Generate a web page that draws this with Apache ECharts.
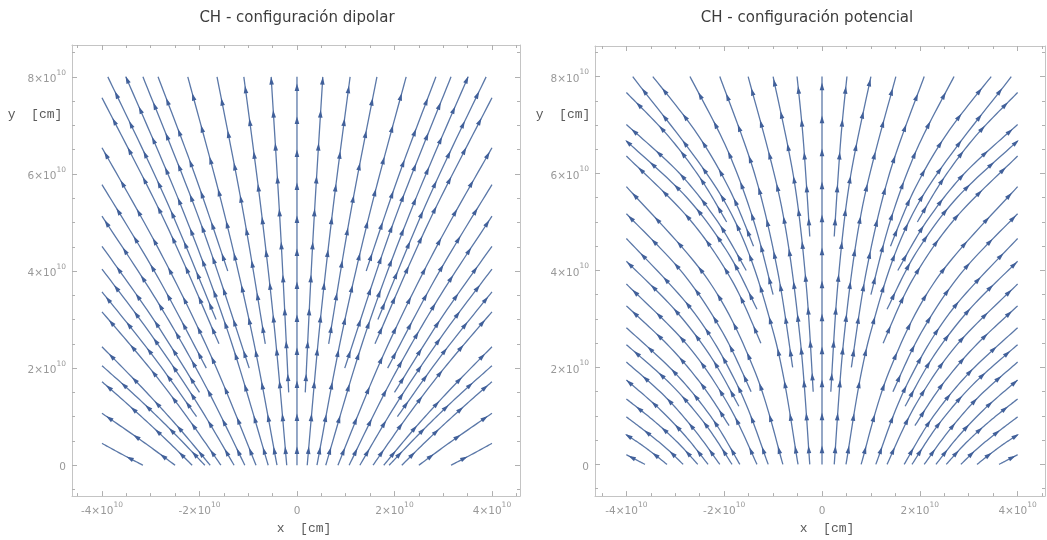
<!DOCTYPE html>
<html><head><meta charset="utf-8">
<script src="https://cdn.jsdelivr.net/npm/echarts@6/dist/echarts.min.js"></script>
<style>html,body{margin:0;padding:0;background:#fff}#c{width:1047px;height:540px}</style>
</head><body><div id="c"></div><script>
// ---- texts ----
const panelTitles = ['CH - configuración dipolar', 'CH - configuración potencial'];
const xAxisName = 'x  [cm]';
const yAxisName = 'y  [cm]';
// ---- ticks (units of 10^10 cm) ----
const majorXTicks = [-4, -2, 0, 2, 4];
const majorYTicks = [0, 2, 4, 6, 8];
const minorXTicks = [-4.5, -3.5, -3, -2.5, -1.5, -1, -0.5, 0.5, 1, 1.5, 2.5, 3, 3.5, 4.5];
const minorYTicks = [-0.5, 0.5, 1, 1.5, 2.5, 3, 3.5, 4.5, 5, 5.5, 6.5, 7, 7.5, 8.5];

// ---- streamlines, dipolar configuration (points [x, y] in 10^10 cm) ----
const dipolarLines = [
  [[-3.16,0],[-3.58,0.22],[-4,0.45]],
  [[-2.50,0],[-3.18,0.5],[-4,1.07]],
  [[-2.15,0],[-2.76,0.6],[-3.41,1.2],[-4,1.72]],
  [[-1.89,0],[-2.56,0.7],[-3.28,1.4],[-4,2.05]],
  [[-1.78,0],[-2.45,0.8],[-3.18,1.6],[-4,2.44]],
  [[-1.56,0],[-2.26,1],[-3.02,2],[-4,3.16]],
  [[-1.29,0],[-2.06,1.3],[-3.0,2.7],[-4,4.04]],
  [[-1.07,0],[-1.91,1.7],[-2.88,3.4],[-4,5.13]],
  [[-0.84,0],[-1.74,2.2],[-2.81,4.4],[-4,6.54]],
  [[-0.59,0],[-1.40,2.7],[-2.36,5.3],[-3.51,8]],
  [[-0.41,0],[-0.92,2.7],[-1.52,5.3],[-2.24,8]],
  [[-0.21,0],[-0.45,2.7],[-0.74,5.3],[-1.09,8]],
  [[-2.06,1.0],[-2.99,2.3],[-4,3.57]],
  [[-2.0,1.5],[-2.94,3.0],[-4,4.51]],
  [[-1.86,2.0],[-2.87,3.9],[-4,5.78]],
  [[-1.6,2.5],[-2.70,5.0],[-4,7.57]],
  [[-1.66,3.0],[-2.70,5.5],[-3.88,8]],
  [[-0.98,2.0],[-1.98,5.0],[-3.16,8]],
  [[-1.42,4.0],[-2.10,6.0],[-2.85,8]],
  [[-0.65,2.5],[-1.10,5.2],[-1.64,8]],
  [[-0.17,1.5],[-0.33,4.7],[-0.53,8]],
  [[0,0],[0,8]],
  [[3.16,0],[3.58,0.22],[4,0.45]],
  [[2.50,0],[3.18,0.5],[4,1.07]],
  [[2.15,0],[2.76,0.6],[3.41,1.2],[4,1.72]],
  [[1.89,0],[2.56,0.7],[3.28,1.4],[4,2.05]],
  [[1.78,0],[2.45,0.8],[3.18,1.6],[4,2.44]],
  [[1.56,0],[2.26,1],[3.02,2],[4,3.16]],
  [[1.29,0],[2.06,1.3],[3.0,2.7],[4,4.04]],
  [[1.07,0],[1.91,1.7],[2.88,3.4],[4,5.13]],
  [[0.84,0],[1.74,2.2],[2.81,4.4],[4,6.54]],
  [[0.59,0],[1.40,2.7],[2.36,5.3],[3.51,8]],
  [[0.41,0],[0.92,2.7],[1.52,5.3],[2.24,8]],
  [[0.21,0],[0.45,2.7],[0.74,5.3],[1.09,8]],
  [[2.06,1.0],[2.99,2.3],[4,3.57]],
  [[2.0,1.5],[2.94,3.0],[4,4.51]],
  [[1.86,2.0],[2.87,3.9],[4,5.78]],
  [[1.6,2.5],[2.70,5.0],[4,7.57]],
  [[1.66,3.0],[2.70,5.5],[3.88,8]],
  [[0.98,2.0],[1.98,5.0],[3.16,8]],
  [[1.42,4.0],[2.10,6.0],[2.85,8]],
  [[0.65,2.5],[1.10,5.2],[1.64,8]],
  [[0.17,1.5],[0.33,4.7],[0.53,8]]
];

// ---- streamlines, potential configuration ----
const potencialLines = [
  [[-3.62,0],[-3.81,0.1],[-4,0.2]],
  [[-3.17,0],[-3.42,0.2],[-3.70,0.41],[-4,0.61]],
  [[-2.84,0],[-3.18,0.33],[-3.57,0.65],[-4,0.98]],
  [[-2.54,0],[-2.95,0.45],[-3.44,0.9],[-4,1.35]],
  [[-2.33,0],[-2.79,0.58],[-3.34,1.16],[-4,1.74]],
  [[-2.09,0],[-2.60,0.70],[-3.22,1.41],[-4,2.11]],
  [[-1.84,0],[-2.38,0.82],[-3.09,1.65],[-4,2.47]],
  [[-1.68,0],[-2.24,0.94],[-3.0,1.88],[-4,2.82]],
  [[-1.9,0.8],[-2.44,1.62],[-3.12,2.43],[-4,3.27]],
  [[-1.33,0],[-1.92,1.24],[-2.77,2.48],[-4,3.72]],
  [[-1.7,1.2],[-2.26,2.2],[-3.01,3.19],[-4,4.19]],
  [[-1.10,0],[-1.69,1.55],[-2.60,3.11],[-4,4.66]],
  [[-1.45,1.5],[-2.03,2.72],[-2.85,3.95],[-4,5.17]],
  [[-0.80,0],[-1.37,1.91],[-2.34,3.82],[-4,5.73]],
  [[-1.25,2.5],[-1.84,3.79],[-2.72,5.07],[-4,6.36]],
  [[-1.33,3.2],[-1.92,4.36],[-2.77,5.51],[-4,6.67]],
  [[-1.55,4],[-2.13,5.0],[-2.92,6.01],[-4,7.01]],
  [[-1.95,5],[-2.48,5.89],[-3.15,6.78],[-4,7.67]],
  [[-0.49,0],[-0.98,2.67],[-1.94,5.33],[-3.87,8]],
  [[-1.4,4.5],[-1.89,5.67],[-2.56,6.83],[-3.46,8]],
  [[-1.0,3.5],[-1.39,5],[-1.94,6.5],[-2.70,8]],
  [[-0.6,2],[-0.91,4],[-1.38,6],[-2.09,8]],
  [[-0.25,0],[-0.455,2.67],[-0.83,5.33],[-1.51,8]],
  [[-0.18,1.5],[-0.32,3.67],[-0.565,5.83],[-1.0,8]],
  [[-0.25,4.7],[-0.32,5.8],[-0.4,6.9],[-0.51,8]],
  [[0,0],[0,8]],
  [[3.62,0],[3.81,0.1],[4,0.2]],
  [[3.17,0],[3.42,0.2],[3.70,0.41],[4,0.61]],
  [[2.84,0],[3.18,0.33],[3.57,0.65],[4,0.98]],
  [[2.54,0],[2.95,0.45],[3.44,0.9],[4,1.35]],
  [[2.33,0],[2.79,0.58],[3.34,1.16],[4,1.74]],
  [[2.09,0],[2.60,0.70],[3.22,1.41],[4,2.11]],
  [[1.84,0],[2.38,0.82],[3.09,1.65],[4,2.47]],
  [[1.68,0],[2.24,0.94],[3.0,1.88],[4,2.82]],
  [[1.9,0.8],[2.44,1.62],[3.12,2.43],[4,3.27]],
  [[1.33,0],[1.92,1.24],[2.77,2.48],[4,3.72]],
  [[1.7,1.2],[2.26,2.2],[3.01,3.19],[4,4.19]],
  [[1.10,0],[1.69,1.55],[2.60,3.11],[4,4.66]],
  [[1.45,1.5],[2.03,2.72],[2.85,3.95],[4,5.17]],
  [[0.80,0],[1.37,1.91],[2.34,3.82],[4,5.73]],
  [[1.25,2.5],[1.84,3.79],[2.72,5.07],[4,6.36]],
  [[1.33,3.2],[1.92,4.36],[2.77,5.51],[4,6.67]],
  [[1.55,4],[2.13,5.0],[2.92,6.01],[4,7.01]],
  [[1.95,5],[2.48,5.89],[3.15,6.78],[4,7.67]],
  [[0.49,0],[0.98,2.67],[1.94,5.33],[3.87,8]],
  [[1.4,4.5],[1.89,5.67],[2.56,6.83],[3.46,8]],
  [[1.0,3.5],[1.39,5],[1.94,6.5],[2.70,8]],
  [[0.6,2],[0.91,4],[1.38,6],[2.09,8]],
  [[0.25,0],[0.455,2.67],[0.83,5.33],[1.51,8]],
  [[0.18,1.5],[0.32,3.67],[0.565,5.83],[1.0,8]],
  [[0.25,4.7],[0.32,5.8],[0.4,6.9],[0.51,8]]
];

// ---- layout / style ----
const panels = [
  {lines: dipolarLines, grid: {left: 72, top: 45, width: 448, height: 453},
   xMin: -4.615, xMax: 4.575, yMin: -0.636, yMax: 8.656, titleX: 297, yLabX: 35, xLabShift: 16},
  {lines: potencialLines, grid: {left: 595, top: 46, width: 450, height: 454},
   xMin: -4.642, xMax: 4.560, yMin: -0.654, yMax: 8.630, titleX: 807, yLabX: 563, xLabShift: 14}
];
const frameColor = '#c4c4c4';
const tickColor = '#b0b0b0';
const labelColor = '#999999';
const streamColor = '#5b78a8';
const arrowColor = '#41609a';

const rich = {
  a: {fontSize: 10.5, color: labelColor, fontFamily: 'DejaVu Sans', lineHeight: 16, verticalAlign: 'bottom'},
  b: {fontSize: 7.5, color: labelColor, fontFamily: 'DejaVu Sans', lineHeight: 16, verticalAlign: 'top'}
};
function fmt(v) { return v === 0 ? '{a|0}' : '{a|' + v + '×10}{b|10}'; }

function smoothPts(p, n) {
  if (p.length < 3) return p.slice();
  const out = [];
  for (let i = 0; i < p.length - 1; i++) {
    const p0 = p[i - 1] || p[i], p1 = p[i], p2 = p[i + 1], p3 = p[i + 2] || p[i + 1];
    for (let k = 0; k < n; k++) {
      const t = k / n, t2 = t * t, t3 = t2 * t;
      const f = j => 0.5 * (2 * p1[j] + (-p0[j] + p2[j]) * t + (2 * p0[j] - 5 * p1[j] + 4 * p2[j] - p3[j]) * t2 + (-p0[j] + 3 * p1[j] - 3 * p2[j] + p3[j]) * t3);
      out.push([f(0), f(1)]);
    }
  }
  out.push(p[p.length - 1]);
  return out;
}

function streamSeries(lines, idx) {
  return {
    type: 'custom', coordinateSystem: 'cartesian2d',
    xAxisIndex: idx * 4, yAxisIndex: idx * 4,
    silent: true, clip: true,
    data: lines.map(l => l[0]),
    renderItem: function (params, api) {
      const line = lines[params.dataIndex];
      const pts = smoothPts(line.map(p => api.coord(p)), 16);
      const children = [{type: 'polyline', shape: {points: pts},
        style: {stroke: streamColor, lineWidth: 1.3, fill: null}}];
      const spacing = 33, phase = 15;
      let acc = 0, next = phase;
      for (let i = 1; i < pts.length; i++) {
        const dx = pts[i][0] - pts[i - 1][0], dy = pts[i][1] - pts[i - 1][1];
        const seg = Math.hypot(dx, dy);
        while (seg > 0 && acc + seg >= next) {
          const t = (next - acc) / seg;
          const cx = pts[i - 1][0] + dx * t, cy = pts[i - 1][1] + dy * t;
          const ux = dx / seg, uy = dy / seg, nx = -uy, ny = ux;
          const L = 3.8, W = 2.3;
          children.push({type: 'polygon', shape: {points: [
            [cx + ux * L, cy + uy * L],
            [cx - ux * L + nx * W, cy - uy * L + ny * W],
            [cx - ux * L - nx * W, cy - uy * L - ny * W]]},
            style: {fill: arrowColor}});
          next += spacing;
        }
        acc += seg;
      }
      return {type: 'group', children};
    }
  };
}

const grids = [], xAxes = [], yAxes = [], series = [], graphics = [];
panels.forEach((P, g) => {
  grids.push(Object.assign({containLabel: false}, P.grid));
  const common = {gridIndex: g, type: 'value', splitLine: {show: false}};
  const lineOn = {show: true, onZero: false, lineStyle: {color: frameColor, width: 1}};
  const lineOff = {show: false, onZero: false};
  const tick = (vals, len) => ({show: true, inside: true, length: len, customValues: vals, lineStyle: {color: tickColor}});
  // x axes: bottom major (labels), bottom minor, top major, top minor
  xAxes.push(Object.assign({}, common, {min: P.xMin, max: P.xMax, position: 'bottom', axisLine: lineOn,
    axisTick: tick(majorXTicks, 5),
    axisLabel: {show: true, customValues: majorXTicks, formatter: fmt, rich, margin: 5},
    name: xAxisName, nameLocation: 'middle', nameGap: 24,
    nameTextStyle: {fontFamily: 'Liberation Mono', fontSize: 13, color: '#5a5a5a', padding: [0, 0, 0, P.xLabShift]}}));
  xAxes.push(Object.assign({}, common, {min: P.xMin, max: P.xMax, position: 'bottom', axisLine: lineOff,
    axisTick: tick(minorXTicks, 3), axisLabel: {show: false}}));
  xAxes.push(Object.assign({}, common, {min: P.xMin, max: P.xMax, position: 'top', axisLine: lineOn,
    axisTick: tick(majorXTicks, 5), axisLabel: {show: false}}));
  xAxes.push(Object.assign({}, common, {min: P.xMin, max: P.xMax, position: 'top', axisLine: lineOff,
    axisTick: tick(minorXTicks, 3), axisLabel: {show: false}}));
  yAxes.push(Object.assign({}, common, {min: P.yMin, max: P.yMax, position: 'left', axisLine: lineOn,
    axisTick: tick(majorYTicks, 5),
    axisLabel: {show: true, customValues: majorYTicks, formatter: fmt, rich, margin: 6}}));
  yAxes.push(Object.assign({}, common, {min: P.yMin, max: P.yMax, position: 'left', axisLine: lineOff,
    axisTick: tick(minorYTicks, 3), axisLabel: {show: false}}));
  yAxes.push(Object.assign({}, common, {min: P.yMin, max: P.yMax, position: 'right', axisLine: lineOn,
    axisTick: tick(majorYTicks, 5), axisLabel: {show: false}}));
  yAxes.push(Object.assign({}, common, {min: P.yMin, max: P.yMax, position: 'right', axisLine: lineOff,
    axisTick: tick(minorYTicks, 3), axisLabel: {show: false}}));
  series.push(streamSeries(P.lines, g));
  graphics.push({type: 'text', x: P.titleX, y: 18, style: {text: panelTitles[g], fontFamily: 'DejaVu Sans',
    fontSize: 15, fill: '#3c3c3c', align: 'center', verticalAlign: 'middle'}});
  graphics.push({type: 'text', x: P.yLabX, y: 115, style: {text: yAxisName, fontFamily: 'Liberation Mono',
    fontSize: 13, fill: '#5a5a5a', align: 'center', verticalAlign: 'middle'}});
});

const chart = echarts.init(document.getElementById('c'), null, {renderer: 'canvas'});
chart.setOption({
  animation: false,
  backgroundColor: '#ffffff',
  grid: grids, xAxis: xAxes, yAxis: yAxes, series, graphic: graphics
});
</script></body></html>
